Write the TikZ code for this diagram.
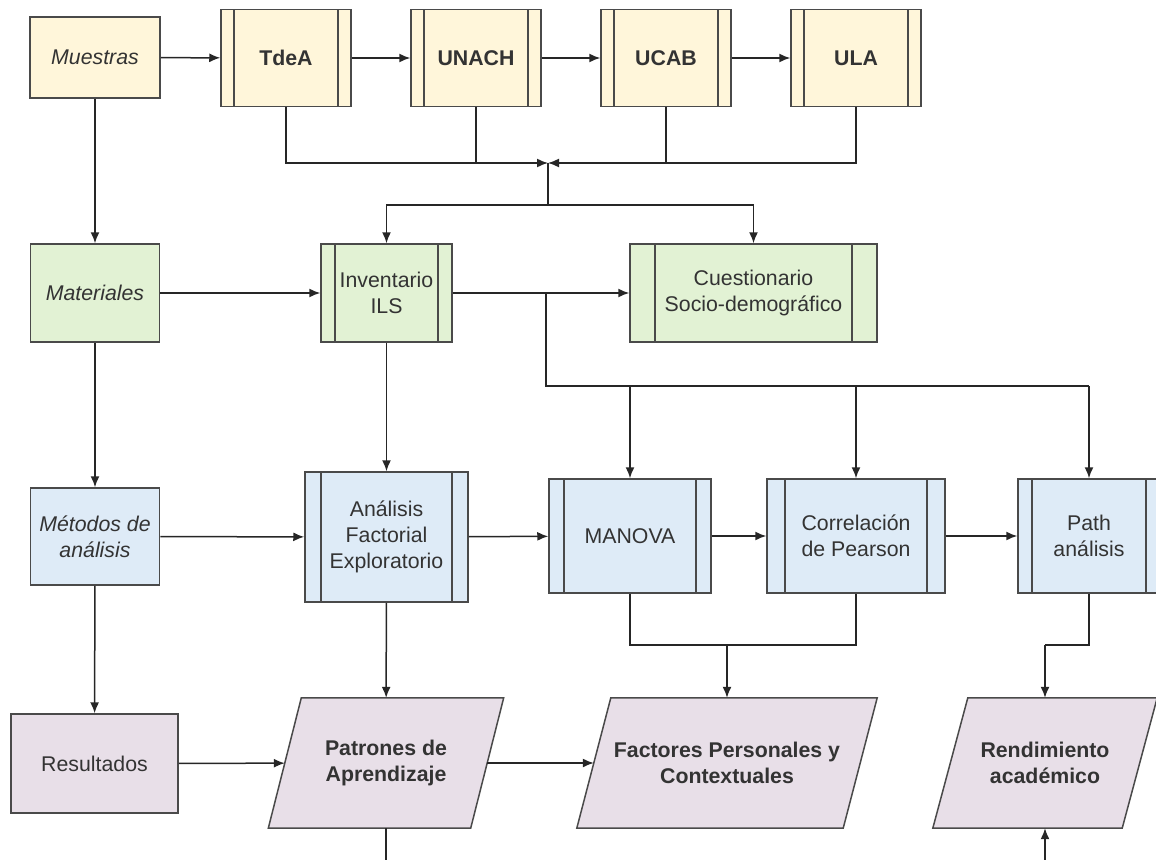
\documentclass[tikz,border=0pt]{standalone}
\usepackage{fontspec}
\setmainfont{Liberation Sans}
\usetikzlibrary{arrows.meta,backgrounds,calc}
\definecolor{cyel}{HTML}{FFF6DA}
\definecolor{cgrn}{HTML}{E2F2D4}
\definecolor{cblu}{HTML}{DEEBF7}
\definecolor{cpur}{HTML}{E8DFE8}
\definecolor{cbrd}{HTML}{4A4A4A}
\definecolor{ctxt}{HTML}{333333}
\newcommand{\fsz}{\fontsize{21.3}{26}\selectfont}
\tikzset{
  base/.style={draw=cbrd, line width=1.5pt, inner sep=0pt, align=center,
    text=ctxt, font=\fsz},
  proc/.style={base, rectangle,
    path picture={
      \draw[cbrd, line width=1.5pt]
        ([xshift=#1]path picture bounding box.north west) --
        ([xshift=#1]path picture bounding box.south west)
        ([xshift=-#1]path picture bounding box.north east) --
        ([xshift=-#1]path picture bounding box.south east);}},
  para/.style={inner sep=0pt, align=center, text=ctxt,
    font=\fsz\bfseries, minimum height=130pt},
  arr/.style={draw=black!85, line width=1.5pt, -{Latex[length=11pt,width=9pt]}},
  ln/.style={draw=black!85, line width=1.5pt},
}
\begin{document}
\begin{tikzpicture}[x=1pt,y=-1pt]
\useasboundingbox (0,0) rectangle (1156,859);
% row 1
\node[base, fill=cyel, minimum width=130pt, minimum height=81pt, font=\fsz\itshape] (mue) at (95,57.5) {Muestras};
\node[proc=13pt, fill=cyel, minimum width=130pt, minimum height=97pt, font=\fsz\bfseries] (tdea) at (286,58) {TdeA};
\node[proc=13pt, fill=cyel, minimum width=130pt, minimum height=97pt, font=\fsz\bfseries] (unach) at (476,58) {UNACH};
\node[proc=13pt, fill=cyel, minimum width=130pt, minimum height=97pt, font=\fsz\bfseries] (ucab) at (666,58) {UCAB};
\node[proc=13pt, fill=cyel, minimum width=130pt, minimum height=97pt, font=\fsz\bfseries] (ula) at (856,58) {ULA};
% row 2
\node[base, fill=cgrn, minimum width=129pt, minimum height=98pt, font=\fsz\itshape] (mat) at (95,293) {Materiales};
\node[proc=14pt, fill=cgrn, minimum width=131pt, minimum height=98pt] (inv) at (386.5,293) {Inventario\\ILS};
\node[proc=25pt, fill=cgrn, minimum width=247pt, minimum height=98pt] (cue) at (753.5,293) {Cuestionario\\Socio-demográfico};
% row 3
\node[base, fill=cblu, minimum width=129pt, minimum height=97pt, font=\fsz\itshape] (met) at (95,536.5) {Métodos de\\análisis};
\node[proc=16pt, fill=cblu, minimum width=163pt, minimum height=130pt] (afe) at (386.5,537) {Análisis\\Factorial\\Exploratorio};
\node[proc=15pt, fill=cblu, minimum width=162pt, minimum height=114pt] (man) at (630,536) {MANOVA};
\node[proc=18pt, fill=cblu, minimum width=178pt, minimum height=114pt] (cor) at (856,536) {Correlación\\de Pearson};
\node[proc=14pt, fill=cblu, minimum width=142pt, minimum height=114pt] (pth) at (1089,536) {Path\\análisis};
% row 4
\node[base, fill=cpur, minimum width=167pt, minimum height=99pt] (res) at (94.5,763.5) {Resultados};
\node[para, minimum width=202pt] (pat) at (386,763) {Patrones de\\Aprendizaje};
\node[para, minimum width=266pt] (fac) at (727,763) {Factores Personales y\\Contextuales};
\node[para, minimum width=189pt] (ren) at (1045,763) {Rendimiento\\académico};
\begin{scope}[on background layer]
\foreach \n/\s in {pat/16.5pt, fac/17pt, ren/17.5pt}{
  \draw[draw=cbrd, line width=1.5pt, fill=cpur]
    ([xshift=\s]\n.north west) -- ([xshift=\s]\n.north east) --
    ([xshift=-\s]\n.south east) -- ([xshift=-\s]\n.south west) -- cycle;
}
\end{scope}
% coordinates
\coordinate (jn) at (548,163);
\coordinate (jd) at (548,205);
\coordinate (b1) at (546,293);
\coordinate (b2) at (546,386);
\coordinate (m1) at (630,645);
\coordinate (p1) at (ren.north |- m1);
\coordinate (pb) at (386,870);
\coordinate (rb) at (ren.south |- pb);
% row 1 connectors
\draw[arr] (mue) -- (tdea);
\draw[arr] (tdea) -- (unach);
\draw[arr] (unach) -- (ucab);
\draw[arr] (ucab) -- (ula);
\draw[arr] (tdea.south) |- (jn);
\draw[ln] (unach.south) -- (unach.south |- jn);
\draw[arr] (ula.south) |- (jn);
\draw[ln] (ucab.south) -- (ucab.south |- jn);
\draw[ln] (jn) -- (jd);
\draw[arr] (jd) -| (inv.north);
\draw[arr] (jd) -| (cue.north);
\draw[arr] (mue) -- (mat);
% row 2 connectors
\draw[arr] (mat) -- (inv);
\draw[arr] (inv) -- (cue);
\draw[ln] (b1) -- (b2) -- (pth.north |- b2);
\draw[arr] (man.north |- b2) -- (man.north);
\draw[arr] (cor.north |- b2) -- (cor.north);
\draw[arr] (pth.north |- b2) -- (pth.north);
\draw[arr] (mat) -- (met);
\draw[arr] (inv) -- (afe);
% row 3 connectors
\draw[arr] (met) -- (afe);
\draw[arr] (afe) -- (man);
\draw[arr] (man) -- (cor);
\draw[arr] (cor) -- (pth);
\draw[arr] (met) -- (res);
\draw[arr] (afe) -- (pat);
\draw[ln] (man.south) |- (cor.south |- m1) -- (cor.south);
\draw[arr] (fac.north |- m1) -- (fac.north);
\draw[ln] (pth.south) |- (p1);
\draw[arr] (p1) -- (ren.north);
% row 4 connectors
\draw[arr] (res) -- (pat);
\draw[arr] (pat) -- (fac);
\draw[ln] (pat.south) -- (pb);
\draw[arr] (rb) -- (ren.south);
\end{tikzpicture}
\end{document}
